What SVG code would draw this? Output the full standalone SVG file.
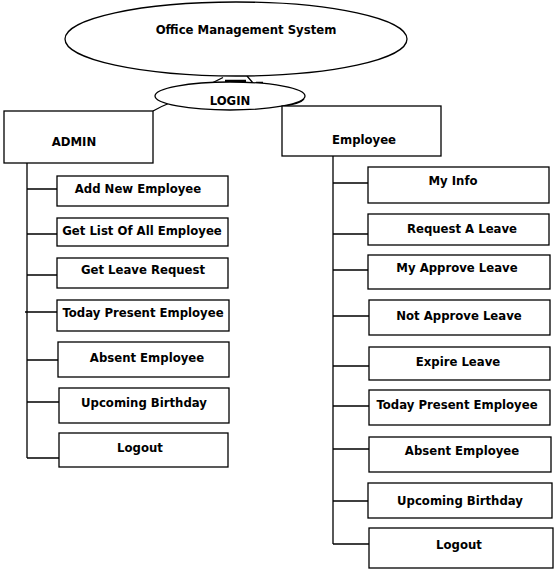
<svg xmlns="http://www.w3.org/2000/svg" width="560" height="572" viewBox="0 0 560 572">
<style>
.s{fill:#fff;stroke:#000;stroke-width:1.3}
.l{fill:none;stroke:#000;stroke-width:1.3}
text{font-family:"DejaVu Sans",Verdana,sans-serif;font-weight:bold;font-size:11.7px;fill:#000;text-anchor:middle}
</style>
<rect width="560" height="572" fill="#fff"/>
<g id="connectors">
<path class="l" d="M210 84 L223 77.5"/>
<path d="M225 81 L246 81" stroke="#000" stroke-width="2.5"/>
<path class="l" d="M247 76 L253 83 M256 82.5 L263 82.5"/>
<path class="l" d="M172 102 Q162 106 153 111"/>
<path class="l" d="M304 99 Q300 104 282 106"/>
<path class="l" d="M27 163 V458 M27 189 H57 M27 234 H57 M27 275 H57 M25 312 H57 M27 360 H58 M27 402 H59 M27 458 H59"/>
<path class="l" d="M333 156 V544 M333 183 H368 M333 234 H368 M333 270 H368 M333 316 H369 M333 366 H369 M333 406 H369 M333 449 H369 M333 501 H368 M333 544 H369"/>
</g>
<g id="oms"><ellipse class="s" cx="236" cy="39" rx="171" ry="37"/><text x="246" y="34">Office Management System</text></g>
<g id="login"><ellipse class="s" cx="230" cy="96" rx="75" ry="14"/><text x="230" y="105">LOGIN</text></g>
<g id="admin"><rect class="s" x="4" y="111" width="149" height="52"/><text x="74" y="146">ADMIN</text></g>
<g id="employee"><rect class="s" x="282" y="106" width="159" height="50"/><text x="364" y="144">Employee</text></g>
<g id="a1"><rect class="s" x="57" y="176" width="171" height="30"/><text x="138" y="193">Add New Employee</text></g>
<g id="a2"><rect class="s" x="57" y="218" width="171" height="28"/><text x="142" y="235">Get List Of All Employee</text></g>
<g id="a3"><rect class="s" x="57" y="258" width="171" height="30"/><text x="143" y="274">Get Leave Request</text></g>
<g id="a4"><rect class="s" x="57" y="300" width="172" height="31"/><text x="143" y="317">Today Present Employee</text></g>
<g id="a5"><rect class="s" x="58" y="342" width="171" height="35"/><text x="147" y="362">Absent Employee</text></g>
<g id="a6"><rect class="s" x="59" y="388" width="170" height="35"/><text x="144" y="407">Upcoming Birthday</text></g>
<g id="a7"><rect class="s" x="59" y="433" width="169" height="34"/><text x="140" y="452">Logout</text></g>
<g id="e1"><rect class="s" x="368" y="167" width="181" height="36"/><text x="453" y="185">My Info</text></g>
<g id="e2"><rect class="s" x="368" y="214" width="181" height="31"/><text x="462" y="233">Request A Leave</text></g>
<g id="e3"><rect class="s" x="368" y="255" width="182" height="34"/><text x="457" y="272">My Approve Leave</text></g>
<g id="e4"><rect class="s" x="369" y="300" width="181" height="35"/><text x="459" y="320">Not Approve Leave</text></g>
<g id="e5"><rect class="s" x="369" y="347" width="181" height="33"/><text x="458" y="366">Expire Leave</text></g>
<g id="e6"><rect class="s" x="369" y="390" width="181" height="35"/><text x="457" y="409">Today Present Employee</text></g>
<g id="e7"><rect class="s" x="369" y="437" width="182" height="35"/><text x="462" y="455">Absent Employee</text></g>
<g id="e8"><rect class="s" x="368" y="483" width="184" height="35"/><text x="460" y="505">Upcoming Birthday</text></g>
<g id="e9"><rect class="s" x="369" y="528" width="184" height="40"/><text x="459" y="549">Logout</text></g>
</svg>
